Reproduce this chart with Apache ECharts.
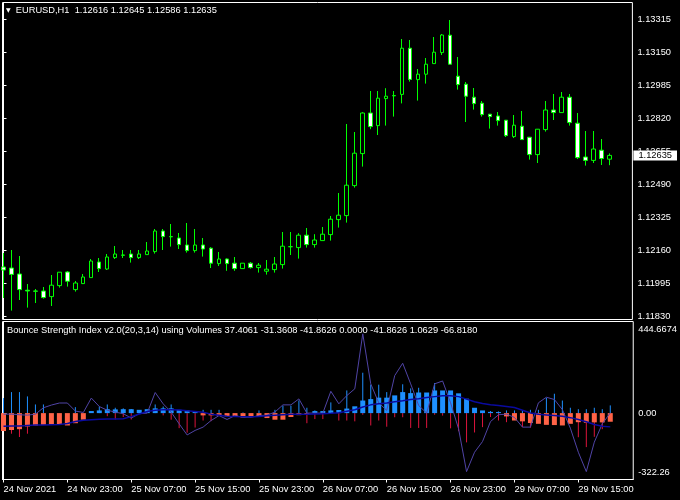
<!DOCTYPE html>
<html><head><meta charset="utf-8">
<script src="https://cdn.jsdelivr.net/npm/echarts@6/dist/echarts.min.js"></script>
<style>html,body{margin:0;padding:0;background:#000;}#c{width:680px;height:500px;}</style>
</head><body><div id="c"></div>
<script>
const symbolName = 'EURUSD,H1';
const indicatorName = 'Bounce Strength Index v2.0(20,3,14) using Volumes';

const opens = [
1.12077,1.12072,1.12042,1.11961,1.11957,1.11957,1.11929,1.11984,1.12052,1.11964,
1.11994,1.12024,1.12102,1.12067,1.12124,1.12137,1.12142,1.12124,1.12139,1.12154,
1.12257,1.12229,1.12222,1.12187,1.12159,1.12187,1.12171,1.12094,1.12117,1.12096,
1.12069,1.12096,1.12074,1.12056,1.12064,1.12089,1.12178,1.12174,1.12236,1.12189,
1.12209,1.12239,1.12314,1.12334,1.12484,1.12644,1.12847,1.12784,1.12919,1.12934,
1.12940,1.13171,1.13014,1.13041,1.13094,1.13149,1.13236,1.13031,1.12991,1.12926,
1.12896,1.12841,1.12832,1.12811,1.12729,1.12781,1.12726,1.12639,1.12764,1.12862,
1.12849,1.12926,1.12796,1.12627,1.12610,1.12661,1.12616];
const closes = [
1.12062,1.12040,1.11964,1.11957,1.11956,1.11924,1.11986,1.12051,1.12006,1.11997,
1.12027,1.12107,1.12069,1.12127,1.12142,1.12136,1.12124,1.12142,1.12157,1.12257,
1.12229,1.12228,1.12189,1.12159,1.12187,1.12167,1.12096,1.12117,1.12094,1.12069,
1.12096,1.12074,1.12086,1.12066,1.12092,1.12181,1.12179,1.12236,1.12189,1.12212,
1.12241,1.12316,1.12336,1.12486,1.12646,1.12847,1.12779,1.12921,1.12931,1.12933,
1.13171,1.13015,1.13041,1.13091,1.13151,1.13237,1.13091,1.12989,1.12931,1.12894,
1.12839,1.12829,1.12809,1.12734,1.12786,1.12714,1.12639,1.12766,1.12862,1.12849,
1.12926,1.12799,1.12624,1.12610,1.12667,1.12619,1.12635];
const lows = [
1.11922,1.11859,1.11912,1.11874,1.11897,1.11919,1.11882,1.11974,1.11979,1.11954,
1.11992,1.12024,1.12052,1.12062,1.12117,1.12122,1.12099,1.12117,1.12139,1.12144,
1.12162,1.12179,1.12167,1.12149,1.12149,1.12129,1.12072,1.12082,1.12058,1.12058,
1.12069,1.12069,1.12049,1.12039,1.12049,1.12069,1.12137,1.12119,1.12174,1.12174,
1.12209,1.12209,1.12274,1.12299,1.12474,1.12579,1.12766,1.12737,1.12784,1.12829,
1.12895,1.13004,1.12909,1.12994,1.13094,1.13137,1.13091,1.12964,1.12802,1.12864,
1.12829,1.12769,1.12784,1.12727,1.12722,1.12714,1.12614,1.12597,1.12754,1.12812,
1.12849,1.12784,1.12617,1.12584,1.12597,1.12587,1.12586];
const highs = [
1.12147,1.12162,1.12132,1.11992,1.11967,1.11977,1.12037,1.12052,1.12057,1.12007,
1.12042,1.12117,1.12122,1.12142,1.12182,1.12162,1.12162,1.12162,1.12202,1.12267,
1.12267,1.12292,1.12247,1.12297,1.12267,1.12222,1.12176,1.12152,1.12120,1.12127,
1.12096,1.12102,1.12097,1.12112,1.12127,1.12252,1.12252,1.12246,1.12272,1.12241,
1.12277,1.12332,1.12447,1.12792,1.12752,1.12851,1.12957,1.12957,1.12971,1.12957,
1.13217,1.13212,1.13067,1.13122,1.13227,1.13242,1.13312,1.13127,1.13002,1.12972,
1.12907,1.12841,1.12852,1.12811,1.12837,1.12857,1.12727,1.12767,1.12907,1.12942,
1.12952,1.12942,1.12847,1.12757,1.12757,1.12717,1.12645];

const histogram = [
-87,-82,-78,-65,-61,-58,-57,-57,-60,-49,
-32,10,13,19,18,19,19,16,19,23,
23,23,16,13,10,-11,-11,-13,-16,-19,
-21,-18,-15,-24,-32,-32,-19,-10,-6,10,
10,13,15,22,33,61,68,75,75,86,
102,97,100,100,110,110,110,96,70,26,
13,6,5,-16,-36,-40,-48,-52,-57,-58,
-60,-52,-44,-47,-45,-45,-41.8626];
const upSpikes = [
73,102,102,81,42,42,0,0,0,29,
0,0,32,42,26,23,20,0,0,42,
32,42,0,0,0,16,16,16,0,0,
3,0,13,0,16,36,36,61,26,13,
5,52,0,110,0,196,138,138,102,0,
140,120,123,0,146,0,0,0,0,0,
0,10,8,13,13,13,16,16,74,94,
61,26,19,19,26,19,37.4061];
const downSpikes = [
0,-100,-116,-100,0,0,0,0,0,0,
0,0,0,-15,-31,-19,-31,0,0,0,
-11,-32,-73,-95,-70,-36,-39,0,0,0,
0,0,0,0,0,0,0,0,-49,-29,
-29,0,-36,-36,-40,-8,-60,-36,-66,-20,
-20,-72,-72,-72,-8,-12,-74,-88,-142,-94,
-68,-19,-36,-44,-30,-68,-71,0,0,0,
-25,0,-117,-165,-115,-78,-31.3608];
const fastLine = [
-5,-5,-8,-10,-5,26,39,49,49,10,
3,73,32,14,5,-3,-24,-3,0,100,
45,5,-52,-106,-84,-68,-36,-12,-31,-12,
-20,-20,-12,-10,5,40,40,69,0,0,
0,106,45,85,118,385,142,50,13,182,
242,142,37,0,142,156,50,-76,-284,-190,
-138,-41,-8,-5,-21,-68,-68,50,77,66,
17,-73,-190,-284,-141,-52,1.0629];
const slowLine = [
-64,-63,-62,-60,-58,-58,-56,-55,-50,-41,
-35,-32,-30,-29,-28,-27,-17,-4,8,14,
16,16,15,11,8,4,-5,-10,-15,-17,
-18,-18,-16,-13,-10,-8,-6,-6,-5,-4,
-3,-1,2,9,16,30,40,45,49,55,
60,66,70,76,80,84,84,80,68,55,
47,41,37,32,27,14,1,-6,-9,-12,
-15,-22,-31,-42,-55,-64,-66.818];

const priceTicks = [1.11830,1.11995,1.12160,1.12325,1.12490,1.12655,1.12820,1.12985,1.13150,1.13315];
const timeTickIndex = [0,8,16,24,32,40,48,56,64,72];
const timeTickLabels = ['24 Nov 2021','24 Nov 23:00','25 Nov 07:00','25 Nov 15:00','25 Nov 23:00','26 Nov 07:00','26 Nov 15:00','26 Nov 23:00','29 Nov 07:00','29 Nov 15:00'];
const indTickValues = [-322.26, 0, 444.6674];
const indTickLabels = ['-322.26', '0.00', '444.6674'];

const FONT = '"Liberation Sans", Arial, sans-serif';
const FS = 9.3;
const N = opens.length;
const last = N - 1;
const xMin = -0.125, xMax = 78.875;
const pMin = 1.118145, pMax = 1.133995;

const candleData = opens.map((o, i) => [i, o, closes[i], lows[i], highs[i]]);
const pairs = arr => arr.map((v, i) => [i, v]);

const headerText = '{tri|\u25BC}  ' + symbolName + '  ' +
  [opens[last], highs[last], lows[last], closes[last]].map(v => v.toFixed(5)).join(' ');
const lastBlue = Math.max(histogram[last], 0), lastRed = Math.min(histogram[last], 0);
const indText = indicatorName + ' ' + [upSpikes[last], downSpikes[last], histogram[last], lastBlue, lastRed, fastLine[last], slowLine[last]].map(v => v.toFixed(4)).join(' ');

function nearestIdx(arr, v) {
  let b = 0; for (let k = 1; k < arr.length; k++) if (Math.abs(arr[k] - v) < Math.abs(arr[b] - v)) b = k; return b;
}

const chart = echarts.init(document.getElementById('c'), null, {renderer: 'canvas'});
const txt = {color: '#ffffff', fontSize: FS, fontFamily: FONT, fontWeight: 'normal'};

const option = {
  backgroundColor: '#000000',
  animation: false,
  title: [
    {left: 6, top: 5, padding: 0, text: headerText,
     textStyle: Object.assign({}, txt, {lineHeight: 11, rich: {tri: {fontSize: 6, color: '#fff', fontFamily: '"DejaVu Sans"'}}})},
    {left: 7, top: 325, padding: 0, text: indText, textStyle: Object.assign({}, txt, {lineHeight: 11})}
  ],
  grid: [
    {left: 2.5, top: 2.5, width: 632, height: 317, show: true, borderColor: '#ffffff', borderWidth: 1, backgroundColor: '#000'},
    {left: 2.5, top: 321.5, width: 632, height: 158, show: true, borderColor: '#ffffff', borderWidth: 1, backgroundColor: '#000'}
  ],
  xAxis: [
    {type: 'value', gridIndex: 0, min: xMin, max: xMax, show: false},
    {type: 'value', gridIndex: 1, min: xMin, max: xMax,
     axisLine: {show: true, onZero: false, lineStyle: {color: '#fff'}},
     splitLine: {show: false},
     axisTick: {show: true, length: 3, customValues: timeTickIndex, lineStyle: {color: '#fff'}},
     axisLabel: Object.assign({}, txt, {customValues: timeTickIndex, align: 'left', margin: 5,
       formatter: v => timeTickLabels[nearestIdx(timeTickIndex, v)]})}
  ],
  yAxis: [
    {type: 'value', gridIndex: 0, position: 'right', min: pMin, max: pMax,
     splitLine: {show: false},
     axisLine: {show: true, lineStyle: {color: '#fff'}},
     axisTick: {show: true, length: 3, customValues: priceTicks, lineStyle: {color: '#fff'}},
     axisLabel: Object.assign({}, txt, {customValues: priceTicks, margin: 5, formatter: v => v.toFixed(5)})},
    {type: 'value', gridIndex: 1, position: 'right', min: indTickValues[0], max: indTickValues[2],
     splitLine: {show: false},
     axisLine: {show: true, lineStyle: {color: '#fff'}},
     axisTick: {show: true, length: 3, customValues: [0], lineStyle: {color: '#fff'}},
     axisLabel: Object.assign({}, txt, {customValues: indTickValues, margin: 5,
       formatter: v => { const k = nearestIdx(indTickValues, v); const s = indTickLabels[k];
         return k === 2 ? '{top|' + s + '}' : (k === 0 ? '{bot|' + s + '}' : '{mid|' + s + '}'); },
       rich: {top: {padding: [15, 0, 0, 0], color: '#fff', fontSize: FS, fontFamily: FONT},
              bot: {padding: [0, 0, 15, 0], color: '#fff', fontSize: FS, fontFamily: FONT},
              mid: {color: '#fff', fontSize: FS, fontFamily: FONT}}})},
    {type: 'value', gridIndex: 0, position: 'right', min: pMin, max: pMax, z: 5,
     splitLine: {show: false}, axisLine: {show: false}, axisTick: {show: false},
     axisLabel: {customValues: [closes[last]], margin: 1, formatter: v => closes[last].toFixed(5),
       color: '#000000', backgroundColor: '#ffffff', padding: [0, 5, 0, 5], lineHeight: 10,
       fontSize: FS, fontFamily: FONT}}
  ],
  series: [
    {type: 'candlestick', name: 'price', xAxisIndex: 0, yAxisIndex: 0, layout: 'horizontal',
     data: candleData, encode: {x: 0, y: [1, 2, 3, 4]}, barWidth: 4,
     itemStyle: {color: '#000000', color0: '#ffffff', borderColor: '#00ff00', borderColor0: '#00ff00', borderWidth: 1}},
    {type: 'custom', name: 'up', xAxisIndex: 1, yAxisIndex: 1, data: pairs(upSpikes),
     renderItem: (p, api) => { const a = api.coord([api.value(0), 0]), b = api.coord([api.value(0), api.value(1)]);
       return {type: 'line', shape: {x1: a[0], y1: a[1], x2: b[0], y2: b[1]}, style: {stroke: '#1E90FF', lineWidth: 1}}; }},
    {type: 'custom', name: 'down', xAxisIndex: 1, yAxisIndex: 1, data: pairs(downSpikes),
     renderItem: (p, api) => { const a = api.coord([api.value(0), 0]), b = api.coord([api.value(0), api.value(1)]);
       return {type: 'line', shape: {x1: a[0], y1: a[1], x2: b[0], y2: b[1]}, style: {stroke: '#DC143C', lineWidth: 1}}; }},
    {type: 'custom', name: 'hist', xAxisIndex: 1, yAxisIndex: 1, data: pairs(histogram),
     renderItem: (p, api) => { const v = api.value(1); const a = api.coord([api.value(0), 0]), b = api.coord([api.value(0), v]);
       return {type: 'rect', shape: {x: a[0] - 2.5, y: Math.min(a[1], b[1]), width: 5, height: Math.abs(b[1] - a[1])},
         style: {fill: v >= 0 ? '#1E90FF' : '#FF6347'}}; }},
    {type: 'line', name: 'fast', xAxisIndex: 1, yAxisIndex: 1, data: pairs(fastLine), showSymbol: false,
     lineStyle: {color: '#5044A6', width: 1}},
    {type: 'line', name: 'slow', xAxisIndex: 1, yAxisIndex: 1, data: pairs(slowLine), showSymbol: false,
     lineStyle: {color: '#0A0AA0', width: 1.5}}
  ]
};
chart.setOption(option);
</script></body></html>
